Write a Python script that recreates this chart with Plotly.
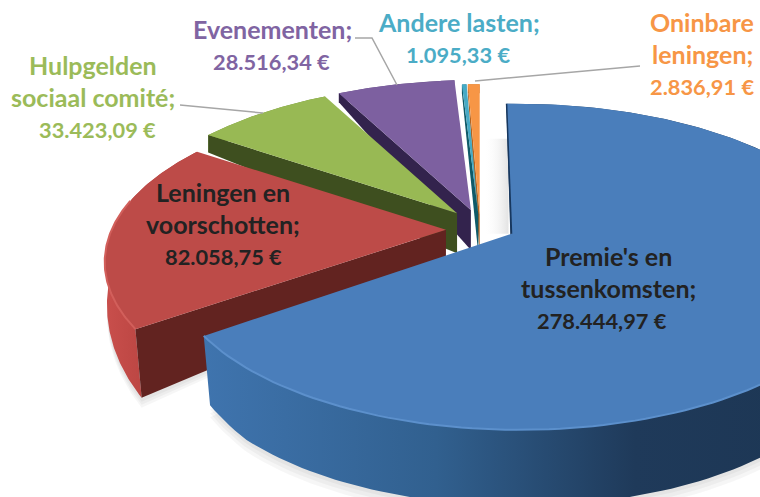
import numpy as np
import plotly.graph_objects as go

# ---- data ----
category_lines = [["Premie's en", "tussenkomsten;"], ["Leningen en", "voorschotten;"],
                  ["Hulpgelden", "sociaal comité;"], ["Evenementen;"], ["Andere lasten;"],
                  ["Oninbare", "leningen;"]]
amounts = [278444.97, 82058.75, 33423.09, 28516.34, 1095.33, 2836.91]
amount_labels = ["278.444,97 €", "82.058,75 €", "33.423,09 €", "28.516,34 €", "1.095,33 €", "2.836,91 €"]
# pie order, clockwise from 12 o'clock
pie_order = [0, 1, 2, 3, 4, 5]

# ---- style ----
pulls = [0.127, 0.082, 0.089, 0.098, 0.073, 0.074]
pull_dirs = np.radians([115.8, 248, 330, 358, 15, 18])
twist = np.radians([-1, 0, 0, 0, 0, 0])
top_colors = ["#4a7ebb", "#bd4b48", "#98b954", "#7d60a0", "#46aac5", "#f79646"]
edge_colors = ["#17375e", "#622320", "#3e4f1f", "#33234d", "#0f5a68", "#b4631f"]
rim_grad = [[[0, "#3f74ae"], [0.35, "#31608f"], [0.65, "#1f3a5a"], [1, "#1c3552"]],
            [[0, "#c94f4c"], [1, "#a93936"]], [[0, "#7a9a3c"], [1, "#6d8a35"]],
            [[0, "#654c85"], [1, "#5a4478"]], [[0, "#2f8296"], [1, "#2f8296"]], [[0, "#c7762f"], [1, "#c7762f"]]]
rim_light = ["#5c90cc", "#d25f5b", "#a8c666", "#8e72b2", "#60bcd4", "#f9a766"]
label_colors = ["#222222", "#222222", "#9bbb59", "#8064a2", "#4bacc6", "#f79646"]
# (centre x of the name lines, centre x of the amount, y of first line)
label_pos = [(608, 602, 256), (223, 223, 192), (93, 97, 65), (272, 271, 29), (459, 458, 22), (702, 702, 22)]
LINE_STEP = 32
FONT = "Lato"
FS_NAME, FS_AMOUNT = 25, 21.8

CX, CY = 472, 225
R, Q, P, S = 341, 156.3, 0.2025, -0.02


def proj(X, Y):
    w = 1 + P * Y + S * X
    return R * X / w, -Q * Y / w


def height(Y):
    return np.clip(np.where(Y < 0, 40 - 50 * Y, 40 - 40 * Y), 9, 76)


total = sum(amounts)
angles = np.cumsum([0] + [a / total * 2 * np.pi for a in amounts])


def slice_geo(i, t):
    """Top and bottom outline points for a world angle t of slice i."""
    ax, ay = proj(pulls[i] * np.sin(pull_dirs[i]), pulls[i] * np.cos(pull_dirs[i]))
    ax, ay = CX + ax, CY + ay
    X, Y = np.sin(t + twist[i]), np.cos(t + twist[i])
    sx, sy = proj(X, Y)
    h = height(Y)
    top = ax + sx, ay + sy
    bot = ax + sx * (1 - np.maximum(h - 40, 0) * 0.0007), ay + sy + h
    return (ax, ay), top, bot


fig = go.Figure()


def poly(xs, ys, color=None, grad=None):
    kw = dict(x=list(xs), y=list(ys), mode="lines", fill="toself", line=dict(width=0),
              hoverinfo="skip", showlegend=False)
    if grad is not None:
        kw["fillgradient"] = dict(type="horizontal", colorscale=grad)
        kw["fillcolor"] = grad[0][1]
    else:
        kw["fillcolor"] = color
    fig.add_trace(go.Scatter(**kw))


# soft ground shadow for the two front slices
for i, steps in ((1, (10, 7, 4)), (0, (12, 8, 4))):
    t = np.linspace(angles[i], angles[i + 1], 120)
    for s in steps:
        (ax, ay), top, bot = slice_geo(i, t)
        poly(list(bot[0]) + [ax], list(bot[1] + s) + [ay + 40], "rgba(0,0,0,0.035)")

# faint shadow of the blue slice on the gap behind it
(ax0, ay0), _, _ = slice_geo(0, np.array([0.0]))
poly([ax0 - 28, ax0 - 3, ax0 - 3, ax0 - 28], [ay0 - 95, ay0 - 95, ay0, ay0],
     grad=[[0, "rgba(255,255,255,0)"], [1, "rgba(215,215,215,0.7)"]])

for i in reversed(pie_order):
    t = np.linspace(angles[i], angles[i + 1], 160)
    (ax, ay), top, bot = slice_geo(i, t)
    # outer wall
    poly(np.r_[top[0], bot[0][::-1]], np.r_[top[1], bot[1][::-1]], grad=rim_grad[i])
    # radial wall on the clockwise-start edge
    (_, _), t0, b0 = slice_geo(i, np.array([angles[i]]))
    ah = height(np.array([0.0]))[0]
    poly([ax, t0[0][0], b0[0][0], ax], [ay, t0[1][0], b0[1][0], ay + ah], edge_colors[i])
    # top face
    poly(np.r_[ax, top[0]], np.r_[ay, top[1]], top_colors[i])
    # bevel highlight along the front of the rim
    front = np.cos(t) < 0.2
    if front.any():
        fig.add_trace(go.Scatter(x=top[0][front], y=top[1][front], mode="lines", hoverinfo="skip",
                                 showlegend=False, line=dict(color=rim_light[i], width=2)))
    # thin dark seam for the almost vertical blue edge
    if i == 0:
        fig.add_trace(go.Scatter(x=[ax, t0[0][0]], y=[ay, t0[1][0]], mode="lines", hoverinfo="skip",
                                 showlegend=False, line=dict(color=edge_colors[0], width=1.5)))

# leader lines
leaders = [([180, 190, 263], [105, 106, 113]), ([355, 372, 397], [38, 38, 85]), ([475, 640], [81, 66])]
for lx, ly in leaders:
    fig.add_trace(go.Scatter(x=lx, y=ly, mode="lines", hoverinfo="skip", showlegend=False,
                             line=dict(color="#a6a6a6", width=1.5)))

for i in pie_order:
    xn, xa, y0 = label_pos[i]
    lines = category_lines[i]
    for k, txt in enumerate(lines):
        fig.add_annotation(x=xn, y=y0 + k * LINE_STEP, xref="x", yref="y", showarrow=False,
                           text=f"<b>{txt}</b>", font=dict(family=FONT, size=FS_NAME, color=label_colors[i]))
    fig.add_annotation(x=xa, y=y0 + len(lines) * LINE_STEP, xref="x", yref="y", showarrow=False,
                       text=f"<b>{amount_labels[i]}</b>", font=dict(family=FONT, size=FS_AMOUNT, color=label_colors[i]))

fig.update_layout(
    width=760, height=497, margin=dict(l=0, r=0, t=0, b=0),
    paper_bgcolor="white", plot_bgcolor="white", showlegend=False,
    xaxis=dict(range=[0, 760], visible=False, fixedrange=True),
    yaxis=dict(range=[497, 0], visible=False, fixedrange=True),
)
fig.write_html("out.html", config={"displayModeBar": False},
               post_script="document.body.style.margin='0';document.body.style.overflow='hidden';")
